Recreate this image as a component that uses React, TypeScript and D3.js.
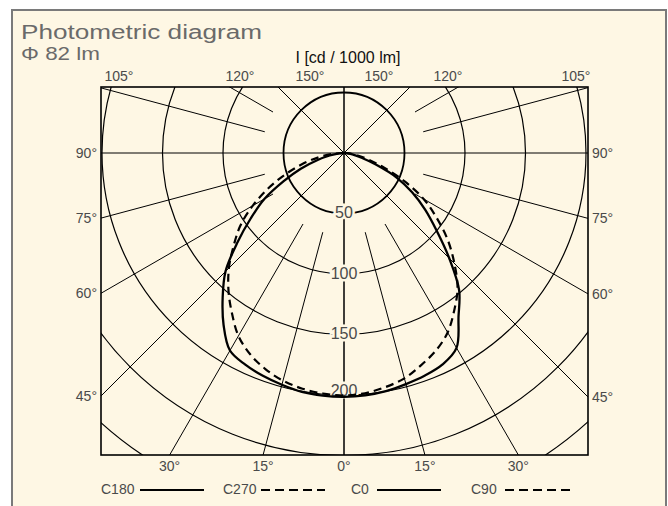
import React from 'react';
import * as d3 from 'd3';

// ---- data ----
const GAMMA = [0, 5, 10, 15, 20, 25, 30, 35, 40, 45, 50, 55, 60, 65, 70, 75, 80, 85, 90];
const C180 = [201.5, 201.3, 200.5, 198.3, 196, 193, 188.5, 173.5, 156, 138.5, 115, 94, 76, 55, 38, 23, 12, 4, 0];
const C0 = [201.5, 201, 199.8, 197.7, 195.7, 192.8, 186, 165, 148, 123, 100, 82, 65, 48, 28, 15, 7, 2, 0];
const C270 = [200.4, 199.5, 197.8, 194.8, 190, 183.5, 174.5, 161.5, 148.5, 134.5, 119, 104.5, 87, 69, 51.5, 36, 22, 10, 0];
const C90 = [200.4, 199.3, 196.5, 192.8, 186.5, 180, 171.3, 158.8, 146, 129, 112, 93.5, 76, 55, 35, 21, 11, 4, 0];
const RINGS = [50, 100, 150, 200, 250, 300];
const RING_LABELS = [50, 100, 150, 200];
const RADIAL_ANGLES = [0, 15, 30, 45, 60, 75, 90, 105, 120, 135, 150, 165, 180];
const SIDE_LABELS = [90, 75, 60, 45];
const BOTTOM_LABELS = [-30, -15, 0, 15, 30];
const TOP_LABELS = ['105°', '120°', '150°', '150°', '120°', '105°'];
const LEGEND = [
  { name: 'C180', dash: false },
  { name: 'C270', dash: true },
  { name: 'C0', dash: false },
  { name: 'C90', dash: true },
];

// ---- layout ----
const W = 668, H = 506;
const CX = 344, CY = 153;
const BL = 101, BR = 588, BT = 87, BB = 455;
const TOP_LABEL_X = [119, 240, 310, 379, 448, 576];
const LEGEND_X = [101, 223, 351, 471];
const LEGEND_LINE = [[140, 204], [261, 325], [377, 441], [505, 570]];
const BG = '#fef7e4';
const FONT = 'Liberation Sans, Arial, sans-serif';

const r = d3.scaleLinear().domain([0, 300]).range([0, 363]);
const rad = (deg: number) => (deg * Math.PI) / 180;

function pairPath(left: number[], right: number[]) {
  const pts: [number, number][] = [];
  for (let i = GAMMA.length - 1; i >= 0; i--) pts.push([Math.PI + rad(GAMMA[i]), r(left[i])]);
  for (let i = 1; i < GAMMA.length; i++) pts.push([Math.PI - rad(GAMMA[i]), r(right[i])]);
  const line = d3
    .lineRadial<[number, number]>()
    .angle((d) => d[0])
    .radius((d) => d[1])
    .curve(d3.curveCatmullRom.alpha(0.5));
  return line(pts) || '';
}

export default function App() {
  const radials: { x1: number; y1: number; x2: number; y2: number }[] = [];
  RADIAL_ANGLES.forEach((a) => {
    const inner = a % 45 === 0 ? 0 : 82;
    [-1, 1].forEach((s) => {
      const g = rad(a);
      radials.push({
        x1: CX + s * Math.sin(g) * inner,
        y1: CY + Math.cos(g) * inner,
        x2: CX + s * Math.sin(g) * 700,
        y2: CY + Math.cos(g) * 700,
      });
    });
  });

  const labelColor = '#4a4a4a';

  return (
    <div style={{ position: 'absolute', left: 0, top: 0 }}>
      <svg width={W} height={H} style={{ display: 'block' }}>
        <rect x={0} y={0} width={W} height={H} fill="#fff" />
        <rect x={12} y={10} width={654} height={H + 20} fill={BG} stroke="#7a7a7a" strokeWidth={2} />
        <text x={21} y={39} fontFamily={FONT} fontSize={20} fill="#6a6a6a" textLength={241} lengthAdjust="spacingAndGlyphs">Photometric diagram</text>
        <text x={21} y={60} fontFamily={FONT} fontSize={19} fill="#6a6a6a" textLength={79} lengthAdjust="spacingAndGlyphs">Φ 82 lm</text>
        <text x={348} y={63} fontFamily={FONT} fontSize={16} fill="#111" textAnchor="middle">I [cd / 1000 lm]</text>

        {TOP_LABELS.map((t, i) => (
          <text key={'t' + i} x={TOP_LABEL_X[i]} y={81} fontFamily={FONT} fontSize={14} fill={labelColor} textAnchor="middle">{t}</text>
        ))}

        <defs>
          <clipPath id="box">
            <rect x={BL} y={BT} width={BR - BL} height={BB - BT} />
          </clipPath>
        </defs>

        <g clipPath="url(#box)">
          {RINGS.map((v) => (
            <circle key={'c' + v} cx={CX} cy={CY} r={r(v)} fill="none" stroke="#000" strokeWidth={v === 50 ? 1.8 : 1.2} />
          ))}
          {radials.map((l, i) => (
            <line key={'l' + i} x1={l.x1} y1={l.y1} x2={l.x2} y2={l.y2} stroke="#000" strokeWidth={1} />
          ))}
          {RING_LABELS.map((v) => (
            <text key={'rl' + v} x={CX} y={CY + r(v)} dy={v === 200 ? '0.05em' : '0.3em'} fontFamily={FONT} fontSize={16} fill={labelColor} textAnchor="middle" stroke={BG} strokeWidth={5} paintOrder="stroke">{v}</text>
          ))}
          <g transform={`translate(${CX},${CY})`}>
            <path d={pairPath(C270, C90)} fill="none" stroke="#000" strokeWidth={2.2} strokeDasharray="8,5" />
            <path d={pairPath(C180, C0)} fill="none" stroke="#000" strokeWidth={2.3} />
          </g>
        </g>
        <rect x={BL} y={BT} width={BR - BL} height={BB - BT} fill="none" stroke="#000" strokeWidth={1.6} />

        {SIDE_LABELS.map((a) => {
          const yL = CY + (CX - BL) / Math.tan(rad(a));
          const yR = CY + (BR - CX) / Math.tan(rad(a));
          return (
            <g key={'s' + a}>
              <text x={BL - 4} y={yL} dy="0.36em" fontFamily={FONT} fontSize={14} fill={labelColor} textAnchor="end">{a}°</text>
              <text x={BR + 4} y={yR} dy="0.36em" fontFamily={FONT} fontSize={14} fill={labelColor} textAnchor="start">{a}°</text>
            </g>
          );
        })}
        {BOTTOM_LABELS.map((a, i) => (
          <text key={'b' + i} x={CX + (BB - CY) * Math.tan(rad(a))} y={471} fontFamily={FONT} fontSize={14} fill={labelColor} textAnchor="middle">{Math.abs(a)}°</text>
        ))}

        {LEGEND.map((l, i) => (
          <g key={'lg' + i}>
            <text x={LEGEND_X[i]} y={494} fontFamily={FONT} fontSize={14} fill={labelColor}>{l.name}</text>
            <line x1={LEGEND_LINE[i][0]} x2={LEGEND_LINE[i][1]} y1={490} y2={490} stroke="#000" strokeWidth={2.2} strokeDasharray={l.dash ? '9,5' : undefined} />
          </g>
        ))}
      </svg>
    </div>
  );
}
